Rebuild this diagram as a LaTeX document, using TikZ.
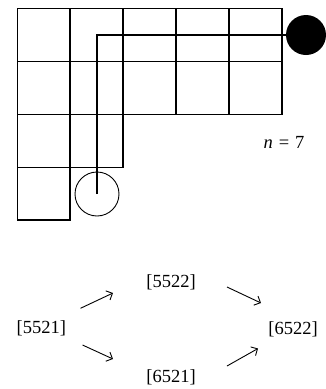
\documentclass[tikz,border=0pt]{standalone}
\usepackage{fontspec}
\setmainfont{Liberation Serif}
\usetikzlibrary{arrows.meta}
\begin{document}
\begin{tikzpicture}[x=1pt,y=-1pt,
  gridline/.style={line width=1.1pt,line cap=rect},
  pathline/.style={line width=1.1pt},
  lbl/.style={font=\fontsize{18.5}{21}\selectfont,inner sep=0pt,anchor=base},
  rel/.style={line width=0.9pt,-{Straight Barb[length=5pt,width=10pt,line width=0.9pt]}}]
\useasboundingbox (0,0) rectangle (326,389);
% grid
\draw[gridline] (17.5,8.7) -- (282,8.7);
\draw[gridline] (17.5,61.7) -- (282,61.7);
\draw[gridline] (17.5,114.7) -- (282,114.7);
\draw[gridline] (17.5,167.3) -- (123,167.3);
\draw[gridline] (17.5,220) -- (70,220);
\draw[gridline] (17.5,8.7) -- (17.5,220);
\draw[gridline] (70,8.7) -- (70,220);
\draw[gridline] (123,8.7) -- (123,167.3);
\draw[gridline] (176,8.7) -- (176,114.7);
\draw[gridline] (229,8.7) -- (229,114.7);
\draw[gridline] (282,8.7) -- (282,114.7);
% path and circles
\node[circle,fill=black,minimum size=40pt,inner sep=0pt] (end) at (306,35) {};
\node[circle,draw,line width=0.9pt,minimum size=44pt,inner sep=0pt] (start) at (97,194) {};
\coordinate (corner) at (97,35);
\draw[pathline] (start.center) -- (corner) -- (end);
\node[lbl] (n) at (284,148.3) {\textit{n}\hspace{6pt}=\hspace{6pt}7};
% poset
\node[lbl] (a) at (41.3,333.5) {[5521]};
\node[lbl] (b) at (171,287.5) {[5522]};
\node[lbl] (c) at (171,382) {[6521]};
\node[lbl] (d) at (293,334) {[6522]};
\coordinate (a1s) at (80.5,308.3); \coordinate (a1e) at (113,293);
\coordinate (a2s) at (82.5,345); \coordinate (a2e) at (113,359);
\coordinate (a3s) at (227,287); \coordinate (a3e) at (261,303);
\coordinate (a4s) at (227,366); \coordinate (a4e) at (258,348.5);
\draw[rel] (a1s) -- (a1e);
\draw[rel] (a2s) -- (a2e);
\draw[rel] (a3s) -- (a3e);
\draw[rel] (a4s) -- (a4e);
\end{tikzpicture}
\end{document}
